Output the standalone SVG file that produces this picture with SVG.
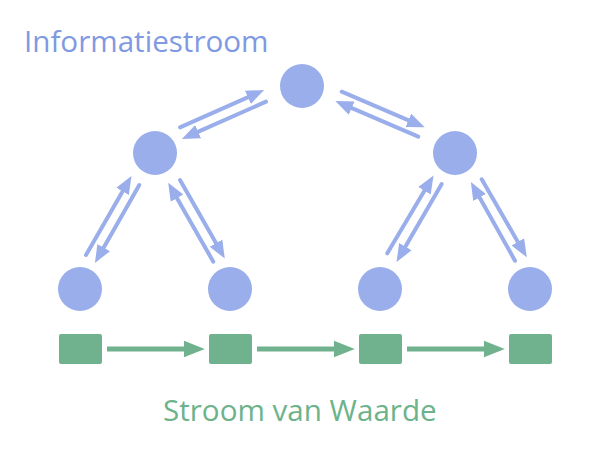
<svg xmlns="http://www.w3.org/2000/svg" width="600" height="460" viewBox="0 0 600 460">
<style>
.info{fill:#99aeea}
.val{fill:#70b28e}
.bl{stroke:#99aeea;stroke-width:4;stroke-linecap:round;fill:none;marker-end:url(#ab)}
.gl{stroke:#70b28e;stroke-width:5;fill:none;marker-end:url(#ag)}
.t{font-family:"Open Sans","Noto Sans",sans-serif;font-size:29.6px}
</style>
<defs>
<marker id="ab" markerUnits="userSpaceOnUse" markerWidth="20" markerHeight="20" refX="2" refY="0" viewBox="0 -8 18 16" orient="auto">
<path d="M0,-6.5 L16,0 L0,6.5 z" fill="#99aeea"/>
</marker>
<marker id="ag" markerUnits="userSpaceOnUse" markerWidth="22" markerHeight="20" refX="1" refY="0" viewBox="0 -9 20 18" orient="auto">
<path d="M0,-7.5 L19,0 L0,7.5 z" fill="#70b28e"/>
</marker>
</defs>
<text class="t" x="24" y="52" fill="#7f99e3">Informatiestroom</text>
<text class="t" x="163" y="421" fill="#6cb38b">Stroom van Waarde</text>
<g id="connectors">
<line class="bl" x1="180" y1="127.3" x2="249.9" y2="96.4"/>
<line class="bl" x1="266" y1="101.7" x2="196.1" y2="132.6"/>
<line class="bl" x1="341.7" y1="91.7" x2="410.4" y2="121.2"/>
<line class="bl" x1="418.3" y1="136.7" x2="349.6" y2="107.2"/>
<line class="bl" x1="86" y1="255" x2="123.7" y2="189.4"/>
<line class="bl" x1="139.3" y1="185" x2="102.6" y2="249.5"/>
<line class="bl" x1="180" y1="180" x2="217.1" y2="245.1"/>
<line class="bl" x1="213.3" y1="261.7" x2="175.9" y2="196.2"/>
<line class="bl" x1="387.3" y1="253.3" x2="425.6" y2="188.8"/>
<line class="bl" x1="441.7" y1="184" x2="404.3" y2="248.6"/>
<line class="bl" x1="481.7" y1="179.3" x2="519" y2="243.9"/>
<line class="bl" x1="515" y1="260.7" x2="478.5" y2="195.5"/>
<line class="gl" x1="107" y1="349" x2="185" y2="349"/>
<line class="gl" x1="257" y1="349" x2="335" y2="349"/>
<line class="gl" x1="407" y1="349" x2="485" y2="349"/>
</g>
<g id="n-top"><circle class="info" cx="302" cy="86" r="22"/></g>
<g id="n-mid-left"><circle class="info" cx="155" cy="153" r="22"/></g>
<g id="n-mid-right"><circle class="info" cx="455" cy="153" r="22"/></g>
<g id="n-bot-1"><circle class="info" cx="80" cy="289" r="22"/></g>
<g id="n-bot-2"><circle class="info" cx="230" cy="289" r="22"/></g>
<g id="n-bot-3"><circle class="info" cx="380" cy="289" r="22"/></g>
<g id="n-bot-4"><circle class="info" cx="530" cy="289" r="22"/></g>
<g id="s-1"><rect class="val" x="59" y="334" width="43" height="30" rx="2"/></g>
<g id="s-2"><rect class="val" x="209" y="334" width="43" height="30" rx="2"/></g>
<g id="s-3"><rect class="val" x="359" y="334" width="43" height="30" rx="2"/></g>
<g id="s-4"><rect class="val" x="509" y="334" width="43" height="30" rx="2"/></g>
</svg>
